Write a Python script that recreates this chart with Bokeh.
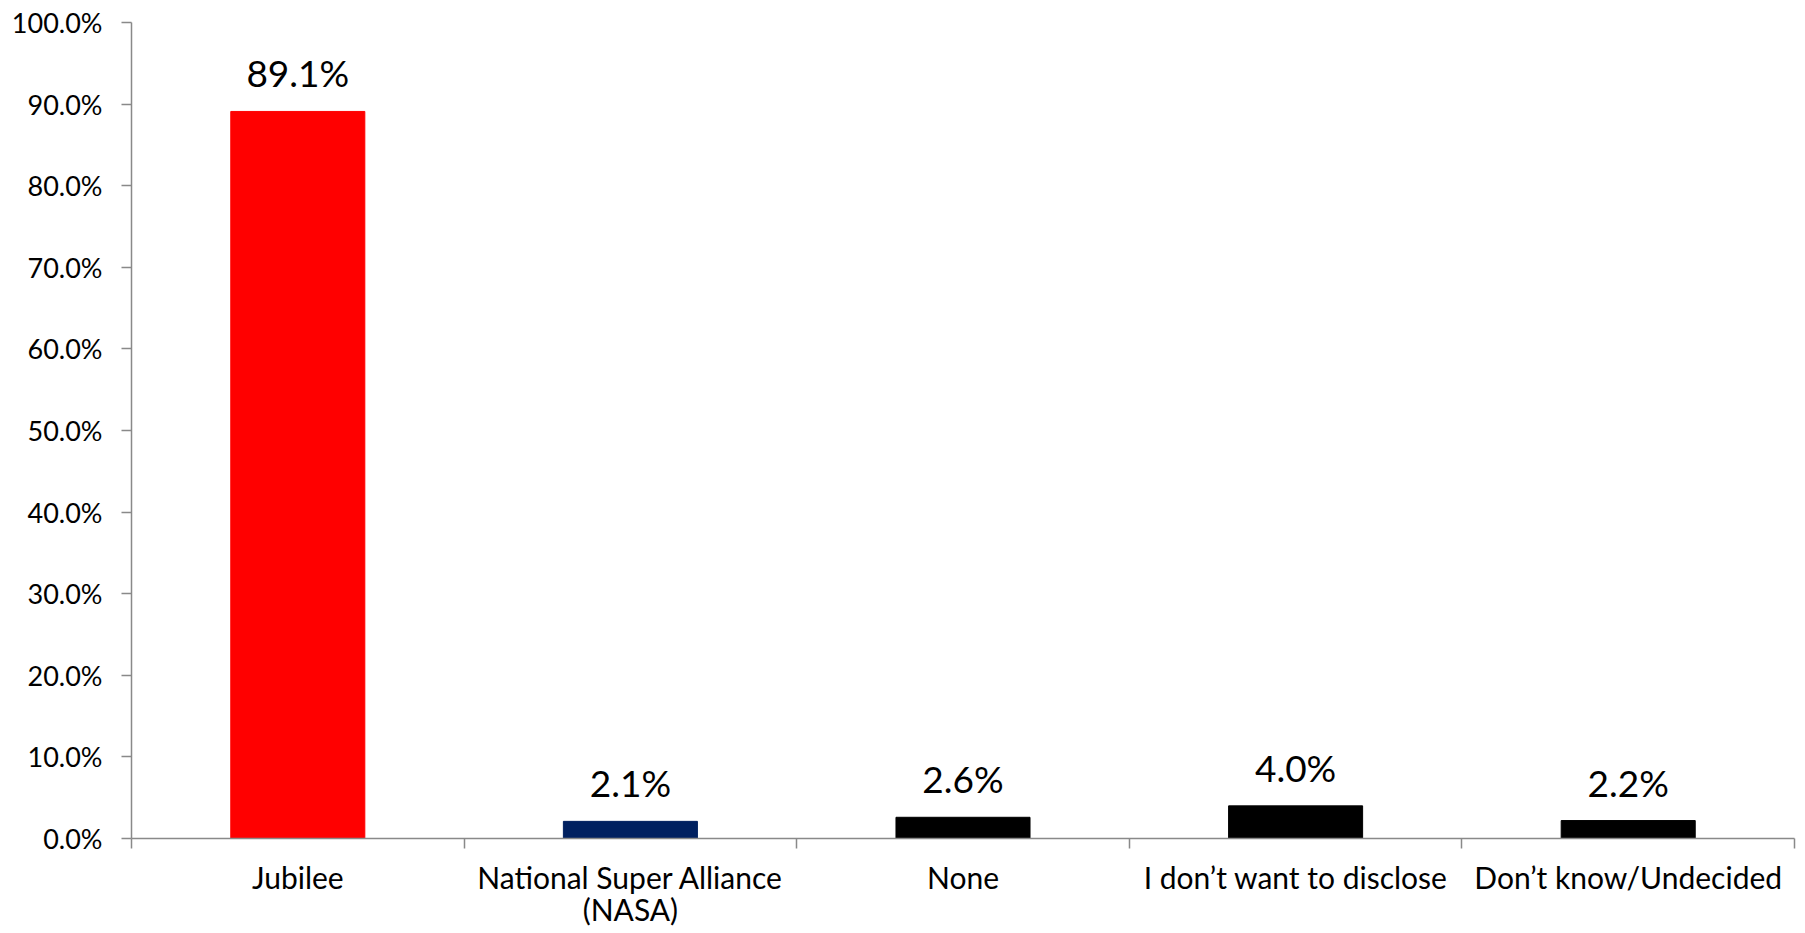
from bokeh.plotting import figure
from bokeh.models import (ColumnDataSource, Range1d, FixedTicker, PrintfTickFormatter,
                          LabelSet)
from bokeh.core.properties import value
from bokeh.embed import file_html
from bokeh.resources import INLINE

categories = ["Jubilee", "National Super Alliance\n(NASA)", "None",
              "I don\u2019t want to disclose", "Don\u2019t know/Undecided"]
values = [89.1, 2.1, 2.6, 4.0, 2.2]
colors = ["#FF0000", "#002060", "#000000", "#000000", "#000000"]
y_ticks = [0, 10, 20, 30, 40, 50, 60, 70, 80, 90, 100]

FONT = "Lato"

positions = [i + 0.5 for i in range(len(categories))]
labels = [f"{v:.1f}%" for v in values]
source = ColumnDataSource(dict(x=positions, top=values, color=colors, label=labels))

p = figure(width=1805, height=933, output_backend="svg", toolbar_location=None,
           x_range=Range1d(0, len(categories)), y_range=Range1d(0, 100),
           min_border_left=131, min_border_right=11, min_border_top=22,
           min_border_bottom=95)
p.outline_line_color = None
p.xgrid.visible = False
p.ygrid.visible = False
p.background_fill_color = "white"
p.border_fill_color = "white"

p.vbar(x="x", top="top", bottom=0, width=0.403, color="color", source=source)

lbls = LabelSet(x="x", y="top", text="label", source=source, y_offset=24,
                text_align="center", text_baseline="alphabetic",
                text_font=value(FONT), text_font_size=value("37px"),
                text_color=value("black"))
p.add_layout(lbls)

axis_color = "#898989"

# y axis
yax = p.yaxis[0]
yax.ticker = FixedTicker(ticks=y_ticks)
yax.formatter = PrintfTickFormatter(format="%.1f%%")
yax.axis_line_color = axis_color
yax.axis_line_width = 1.5
yax.major_tick_line_color = axis_color
yax.major_tick_line_width = 1.5
yax.major_tick_out = 10
yax.major_tick_in = 0
yax.minor_tick_line_color = None
yax.major_label_standoff = 19
yax.major_label_text_font = FONT
yax.major_label_text_font_size = "27px"
yax.major_label_text_color = "black"

# x axis: labels at category centres, ticks at category boundaries
xax = p.xaxis[0]
xax.ticker = FixedTicker(ticks=positions,
                         minor_ticks=list(range(len(categories) + 1)))
xax.major_label_overrides = {pos: cat for pos, cat in zip(positions, categories)}
xax.axis_line_color = axis_color
xax.axis_line_width = 1.5
xax.major_tick_line_color = None
xax.major_tick_out = 0
xax.major_tick_in = 0
xax.minor_tick_line_color = axis_color
xax.minor_tick_line_width = 1.5
xax.minor_tick_out = 10
xax.minor_tick_in = 0
xax.major_label_standoff = 10
xax.major_label_text_font = FONT
xax.major_label_text_font_size = "30px"
xax.major_label_text_color = "black"
xax.major_label_text_line_height = 0.9

open("out.html", "w").write(file_html(p, INLINE))
